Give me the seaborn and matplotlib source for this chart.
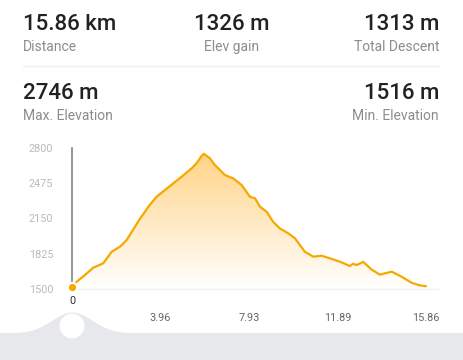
import numpy as np
import pandas as pd
import matplotlib
matplotlib.use("Agg")
import matplotlib.pyplot as plt
import seaborn as sns
from matplotlib.colors import LinearSegmentedColormap

# ---------------- data ----------------
dist_km = [0, 0.21, 0.58, 0.95, 1.40, 1.78, 2.15, 2.45, 2.82, 3.05, 3.27, 3.42, 3.79,
           4.16, 4.54, 4.91, 5.36, 5.58, 5.81, 5.91, 6.18, 6.40, 6.63, 6.85, 7.22,
           7.60, 7.97, 8.20, 8.42, 8.72, 9.01, 9.31, 9.69, 9.99, 10.43, 10.81, 11.18,
           11.55, 12.00, 12.45, 12.60, 12.75, 13.05, 13.42, 13.79, 14.32, 14.76,
           15.21, 15.55, 15.86]
elev_m = [1520, 1567, 1629, 1696, 1737, 1844, 1890, 1952, 2074, 2150, 2212, 2259, 2351,
          2412, 2474, 2535, 2612, 2659, 2728, 2746, 2705, 2643, 2597, 2551, 2520,
          2459, 2351, 2336, 2259, 2212, 2120, 2059, 2013, 1967, 1844, 1798, 1807,
          1783, 1752, 1712, 1733, 1721, 1750, 1680, 1632, 1660, 1614,
          1558, 1535, 1525]
y_ticks = [1500, 1825, 2150, 2475, 2800]
x_ticks = [3.96, 7.93, 11.89, 15.86]
x_tick_labels = ["3.96", "7.93", "11.89", "15.86"]
stats_top = [("15.86 km", "Distance"), ("1326 m", "Elev gain"), ("1313 m", "Total Descent")]
stats_bottom = [("2746 m", "Max. Elevation"), ("1516 m", "Min. Elevation")]

df = pd.DataFrame({"dist": dist_km, "elev": elev_m})

sns.set_theme(style="white")
plt.rcParams["font.family"] = ["Roboto", "DejaVu Sans"]

W, H = 463, 360
fig = plt.figure(figsize=(W / 100, H / 100), dpi=100)
fig.patch.set_facecolor("white")

# ---------- overlay (UI decoration) in pixel coords ----------
ov = fig.add_axes([0, 0, 1, 1], zorder=0)
ov.set_xlim(0, W)
ov.set_ylim(H, 0)
ov.axis("off")
ov.patch.set_alpha(0)

band_col = "#e7e8ec"
ov.fill_between([0, W], [333, 333], [H, H], color=band_col, lw=0)
xs = np.linspace(15, 130, 200)
bump = 333 - 21 * np.exp(-((xs - 72) / 30) ** 2 * 1.1)
ov.fill_between(xs, bump, 334, color=band_col, lw=0)
ov.add_patch(plt.Circle((72, 326), 11.7, color="white", zorder=3))

# header texts
big_kw = dict(fontsize=16, color="#222222", va="baseline", fontweight="medium")
small_kw = dict(fontsize=10, color="#8c8c8c", va="baseline")
x_pos = [(23, "left"), (232, "center"), (439, "right")]
for (val, lab), (xp, ha) in zip(stats_top, x_pos):
    ov.text(xp, 30, val, ha=ha, **big_kw)
    ov.text(xp, 51, lab, ha=ha, **small_kw)
ov.plot([23, 439], [66, 66], color="#eeeeee", lw=1)
for (val, lab), (xp, ha) in zip(stats_bottom, [x_pos[0], x_pos[2]]):
    ov.text(xp, 99, val, ha=ha, **big_kw)
    ov.text(xp, 120, lab, ha=ha, **small_kw)

# ---------- main chart ----------
ax_l, ax_r, ax_t, ax_b = 72, 438, 148, 289
ax = fig.add_axes([ax_l / W, 1 - ax_b / H, (ax_r - ax_l) / W, (ax_b - ax_t) / H], zorder=2)
ax.patch.set_alpha(0)
xmax = 15.86 * (ax_r - ax_l) / (426 - ax_l)
ax.set_xlim(0, xmax)
ax.set_ylim(1500, 2800)

line_col = "#f7a800"
cmap = LinearSegmentedColormap.from_list("g", ["#ffffff", "#ffd282"])
grad = np.linspace(0, 1, 256).reshape(-1, 1)
im = ax.imshow(grad, extent=[0, 15.86, 1500, 2800], origin="lower", aspect="auto",
               cmap=cmap, zorder=1)
poly = ax.fill_between(df["dist"], df["elev"], 1500, color="none", lw=0)
clip = poly.get_paths()[0]
im.set_clip_path(clip, transform=ax.transData)

sns.lineplot(data=df, x="dist", y="elev", ax=ax, color=line_col, lw=1.6, zorder=3)

# cursor line and dot
ax.plot([0, 0], [1500, 2800], color="#999999", lw=1.5, zorder=2, clip_on=False)
ax.scatter([df["dist"][0]], [df["elev"][0]], s=45, color=line_col, edgecolor="white",
           linewidth=1.5, zorder=5, clip_on=False)
ax.annotate("0", xy=(0, 1500), xytext=(0, -11.5), textcoords="offset pixels",
            ha="center", va="center", fontsize=7.8, color="#333333")

for s in ["top", "right", "left"]:
    ax.spines[s].set_visible(False)
ax.spines["bottom"].set_color("#f0f0f0")
ax.spines["bottom"].set_linewidth(1)

ax.set_yticks(y_ticks)
ax.set_yticklabels([str(v) for v in y_ticks])
ax.set_xticks(x_ticks)
ax.set_xticklabels(x_tick_labels)
ax.tick_params(axis="y", length=0, pad=13.5, labelsize=7.8, labelcolor="#bbbbbb")
ax.tick_params(axis="x", length=0, pad=17, labelsize=7.8, labelcolor="#666666")
ax.set_xlabel("")
ax.set_ylabel("")
ax.grid(False)

fig.savefig("out.png", dpi=100, facecolor="white")
